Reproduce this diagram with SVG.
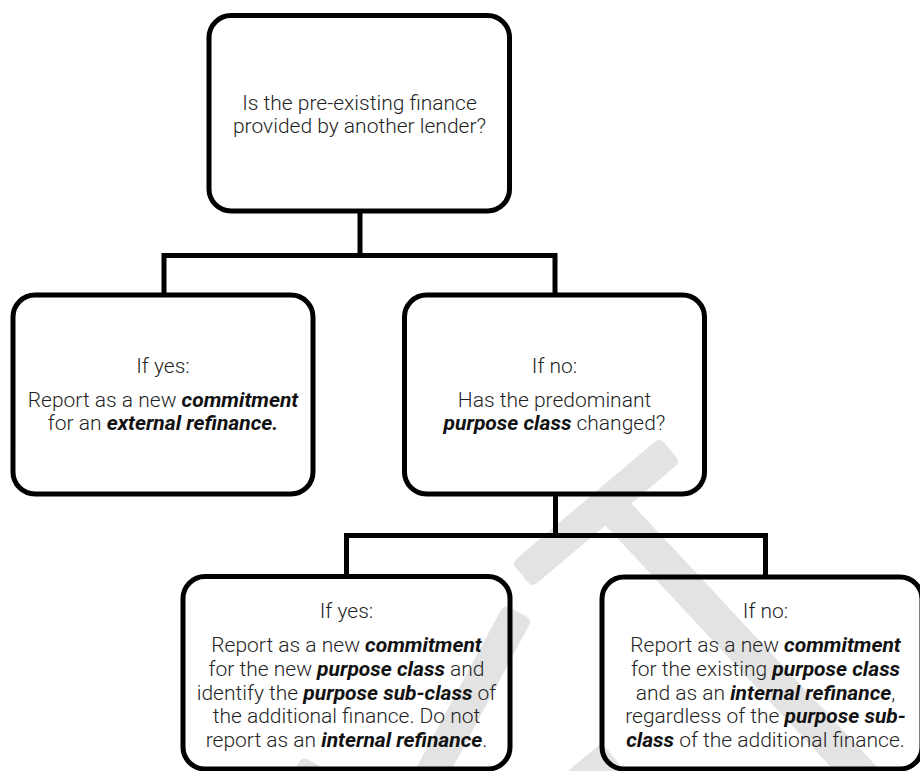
<svg xmlns="http://www.w3.org/2000/svg" width="920" height="771" viewBox="0 0 920 771">
  <style>
    .wm { fill: #e3e3e3; }
    .box { fill: none; stroke: #000; stroke-width: 5; }
    .conn { fill: none; stroke: #000; stroke-width: 5; stroke-linejoin: miter; }
    .t { font-family: Roboto, "Liberation Sans", sans-serif; font-weight: 300; font-size: 21px; fill: #1f1f1f; text-anchor: middle; }
    .b { font-weight: 700; font-style: italic; fill: #111; }
  </style>
  <rect width="920" height="771" fill="#fff"/>
  <g id="watermark">
    <rect class="wm" x="0" y="-16" width="194" height="32" rx="6" transform="translate(522,575) rotate(-40.2)"/>
    <rect class="wm" x="0" y="-17" width="390" height="34" rx="6" transform="translate(605,500) rotate(47)"/>
    <rect class="wm" x="0" y="-16" width="210" height="32" rx="6" transform="translate(518,612) rotate(118.2)"/>
    <rect class="wm" x="0" y="-16" width="90" height="32" rx="6" transform="translate(612,755) rotate(140)"/>
    <rect class="wm" x="0" y="-16" width="60" height="32" rx="6" transform="translate(316,764) rotate(118)"/>
  </g>
  <g id="connectors">
    <path class="conn" d="M360,211 V255.5"/>
    <path class="conn" d="M164,294.5 V255.5 H555 V295"/>
    <path class="conn" d="M555.5,494 V535.5"/>
    <path class="conn" d="M346.5,576.5 V535.5 H765.5 V577"/>
  </g>
  <g id="q1">
    <rect class="box" x="209" y="15.5" width="300.5" height="195.5" rx="22"/>
    <text class="t" x="359.5" y="109.5">Is the pre-existing finance</text>
    <text class="t" x="359.5" y="133">provided by another lender?</text>
  </g>
  <g id="yes1">
    <rect class="box" x="13" y="295" width="300" height="199" rx="22"/>
    <text class="t" x="163" y="373">If yes:</text>
    <text class="t" x="163" y="406.5">Report as a new <tspan class="b">commitment</tspan></text>
    <text class="t" x="163" y="430">for an <tspan class="b">external refinance.</tspan></text>
  </g>
  <g id="no1">
    <rect class="box" x="404.5" y="295" width="300" height="199" rx="22"/>
    <text class="t" x="554.5" y="373">If no:</text>
    <text class="t" x="554.5" y="406.5">Has the predominant</text>
    <text class="t" x="554.5" y="430"><tspan class="b">purpose class</tspan> changed?</text>
  </g>
  <g id="yes2">
    <rect class="box" x="183" y="576.5" width="327" height="192.5" rx="22"/>
    <text class="t" x="346.5" y="618">If yes:</text>
    <text class="t" x="346.5" y="652">Report as a new <tspan class="b">commitment</tspan></text>
    <text class="t" x="346.5" y="675.75">for the new <tspan class="b">purpose class</tspan> and</text>
    <text class="t" x="346.5" y="699.5">identify the <tspan class="b">purpose sub-class</tspan> of</text>
    <text class="t" x="346.5" y="723.25">the additional finance. Do not</text>
    <text class="t" x="346.5" y="747">report as an <tspan class="b">internal refinance</tspan>.</text>
  </g>
  <g id="no2">
    <rect class="box" x="602" y="577" width="320" height="192" rx="22"/>
    <text class="t" x="765.5" y="618">If no:</text>
    <text class="t" x="765.5" y="652">Report as a new <tspan class="b">commitment</tspan></text>
    <text class="t" x="765.5" y="675.75">for the existing <tspan class="b">purpose class</tspan></text>
    <text class="t" x="765.5" y="699.5">and as an <tspan class="b">internal refinance</tspan>,</text>
    <text class="t" x="765.5" y="723.25">regardless of the <tspan class="b">purpose sub-</tspan></text>
    <text class="t" x="765.5" y="747"><tspan class="b">class</tspan> of the additional finance.</text>
  </g>
</svg>
